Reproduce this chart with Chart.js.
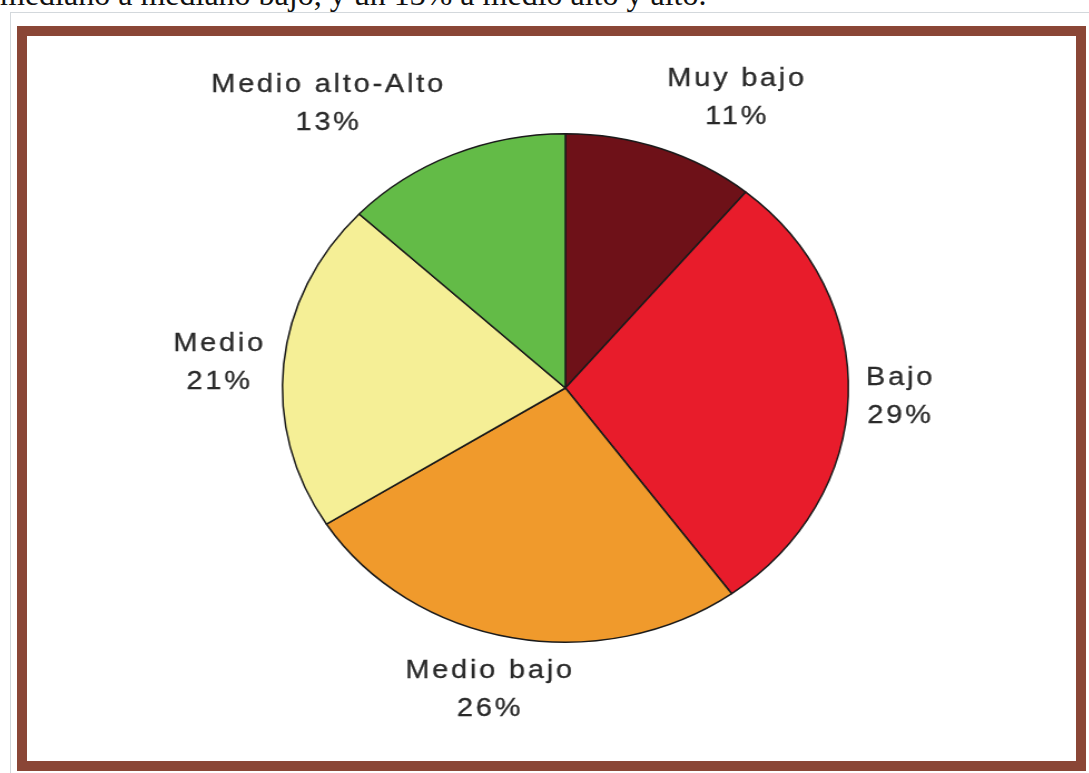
<!DOCTYPE html>
<html>
<head>
<meta charset="utf-8">
<script src="https://cdn.jsdelivr.net/npm/chart.js@4.4.0/dist/chart.umd.min.js"></script>
<style>
  body { margin: 0; width: 1089px; height: 773px; overflow: hidden; background: #fff; position: relative; }
  #texto { position: absolute; left: 0; top: -17px; font: 32px "Liberation Serif", serif; line-height: 22px; color: #111; white-space: nowrap; }
  #linea { position: absolute; left: 10px; top: 12px; width: 1079px; height: 761px; border-left: 1px solid #d3d8dc; border-top: 1px solid #d3d8dc; }
  #marco { position: absolute; left: 17px; top: 26px; width: 1049px; height: 725px; border: 10px solid #8a4636; background: #fff; }
  #lienzo { position: absolute; left: 0; top: 0; transform-origin: 0 0; transform: scaleX(1.113); }
</style>
</head>
<body>
<div id="texto">mediano a mediano bajo, y un 13% a medio alto y alto.</div>
<div id="linea"></div>
<div id="marco"></div>
<canvas id="lienzo" width="978" height="773"></canvas>
<script>
const categorias = ["Muy bajo", "Bajo", "Medio bajo", "Medio", "Medio alto-Alto"];
const porcentajes = [11, 29, 26, 21, 13];
const colores = ["#6e1118", "#e81c2b", "#f09a2c", "#f5ef96", "#63bb47"];

const ctx = document.getElementById("lienzo").getContext("2d");

// empuja la etiqueta hacia fuera segun el angulo del sector
const empuje = (v) => Math.sign(v) * Math.max(0, Math.min(1, (Math.abs(v) - 0.15) * 6));

const etiquetas = {
  id: "etiquetas",
  afterDraw: (chart) => {
    const c = chart.ctx;
    const arcos = chart.getDatasetMeta(0).data;
    c.save();
    c.font = '26px "Liberation Sans", Arial, sans-serif';
    c.letterSpacing = "2.5px";
    c.fillStyle = "#2a2a2a";
    c.strokeStyle = "#2a2a2a";
    c.lineWidth = 0.3;
    c.textAlign = "center";
    c.textBaseline = "middle";
    arcos.forEach((arco, i) => {
      const p = arco.getProps(["x", "y", "startAngle", "endAngle", "outerRadius"]);
      const a = (p.startAngle + p.endAngle) / 2;
      const r = p.outerRadius + 16;
      const ax = p.x + Math.cos(a) * r;
      const ay = p.y + Math.sin(a) * r;
      const lineas = [categorias[i], porcentajes[i] + "%"];
      const w = Math.max(...lineas.map((t) => c.measureText(t).width));
      const h = 72;
      const cx = ax + (w / 2) * empuje(Math.cos(a));
      const cy = ay + (h / 2) * empuje(Math.sin(a));
      lineas.forEach((t, j) => {
        const y = cy + (j === 0 ? -19 : 19);
        c.fillText(t, cx, y);
        c.strokeText(t, cx, y);
      });
    });
    c.restore();
  },
};

const grafico = new Chart(ctx, {
  type: "pie",
  data: {
    labels: categorias,
    datasets: [
      {
        data: porcentajes,
        backgroundColor: colores,
        borderColor: "#1a1a1a",
        borderWidth: 1.5,
      },
    ],
  },
  options: {
    responsive: false,
    animation: false,
    layout: {
      padding: { top: 133, bottom: 130, left: 253, right: 215 },
    },
    plugins: {
      legend: { display: false },
      tooltip: { enabled: false },
    },
  },
  plugins: [etiquetas],
});
</script>
</body>
</html>
